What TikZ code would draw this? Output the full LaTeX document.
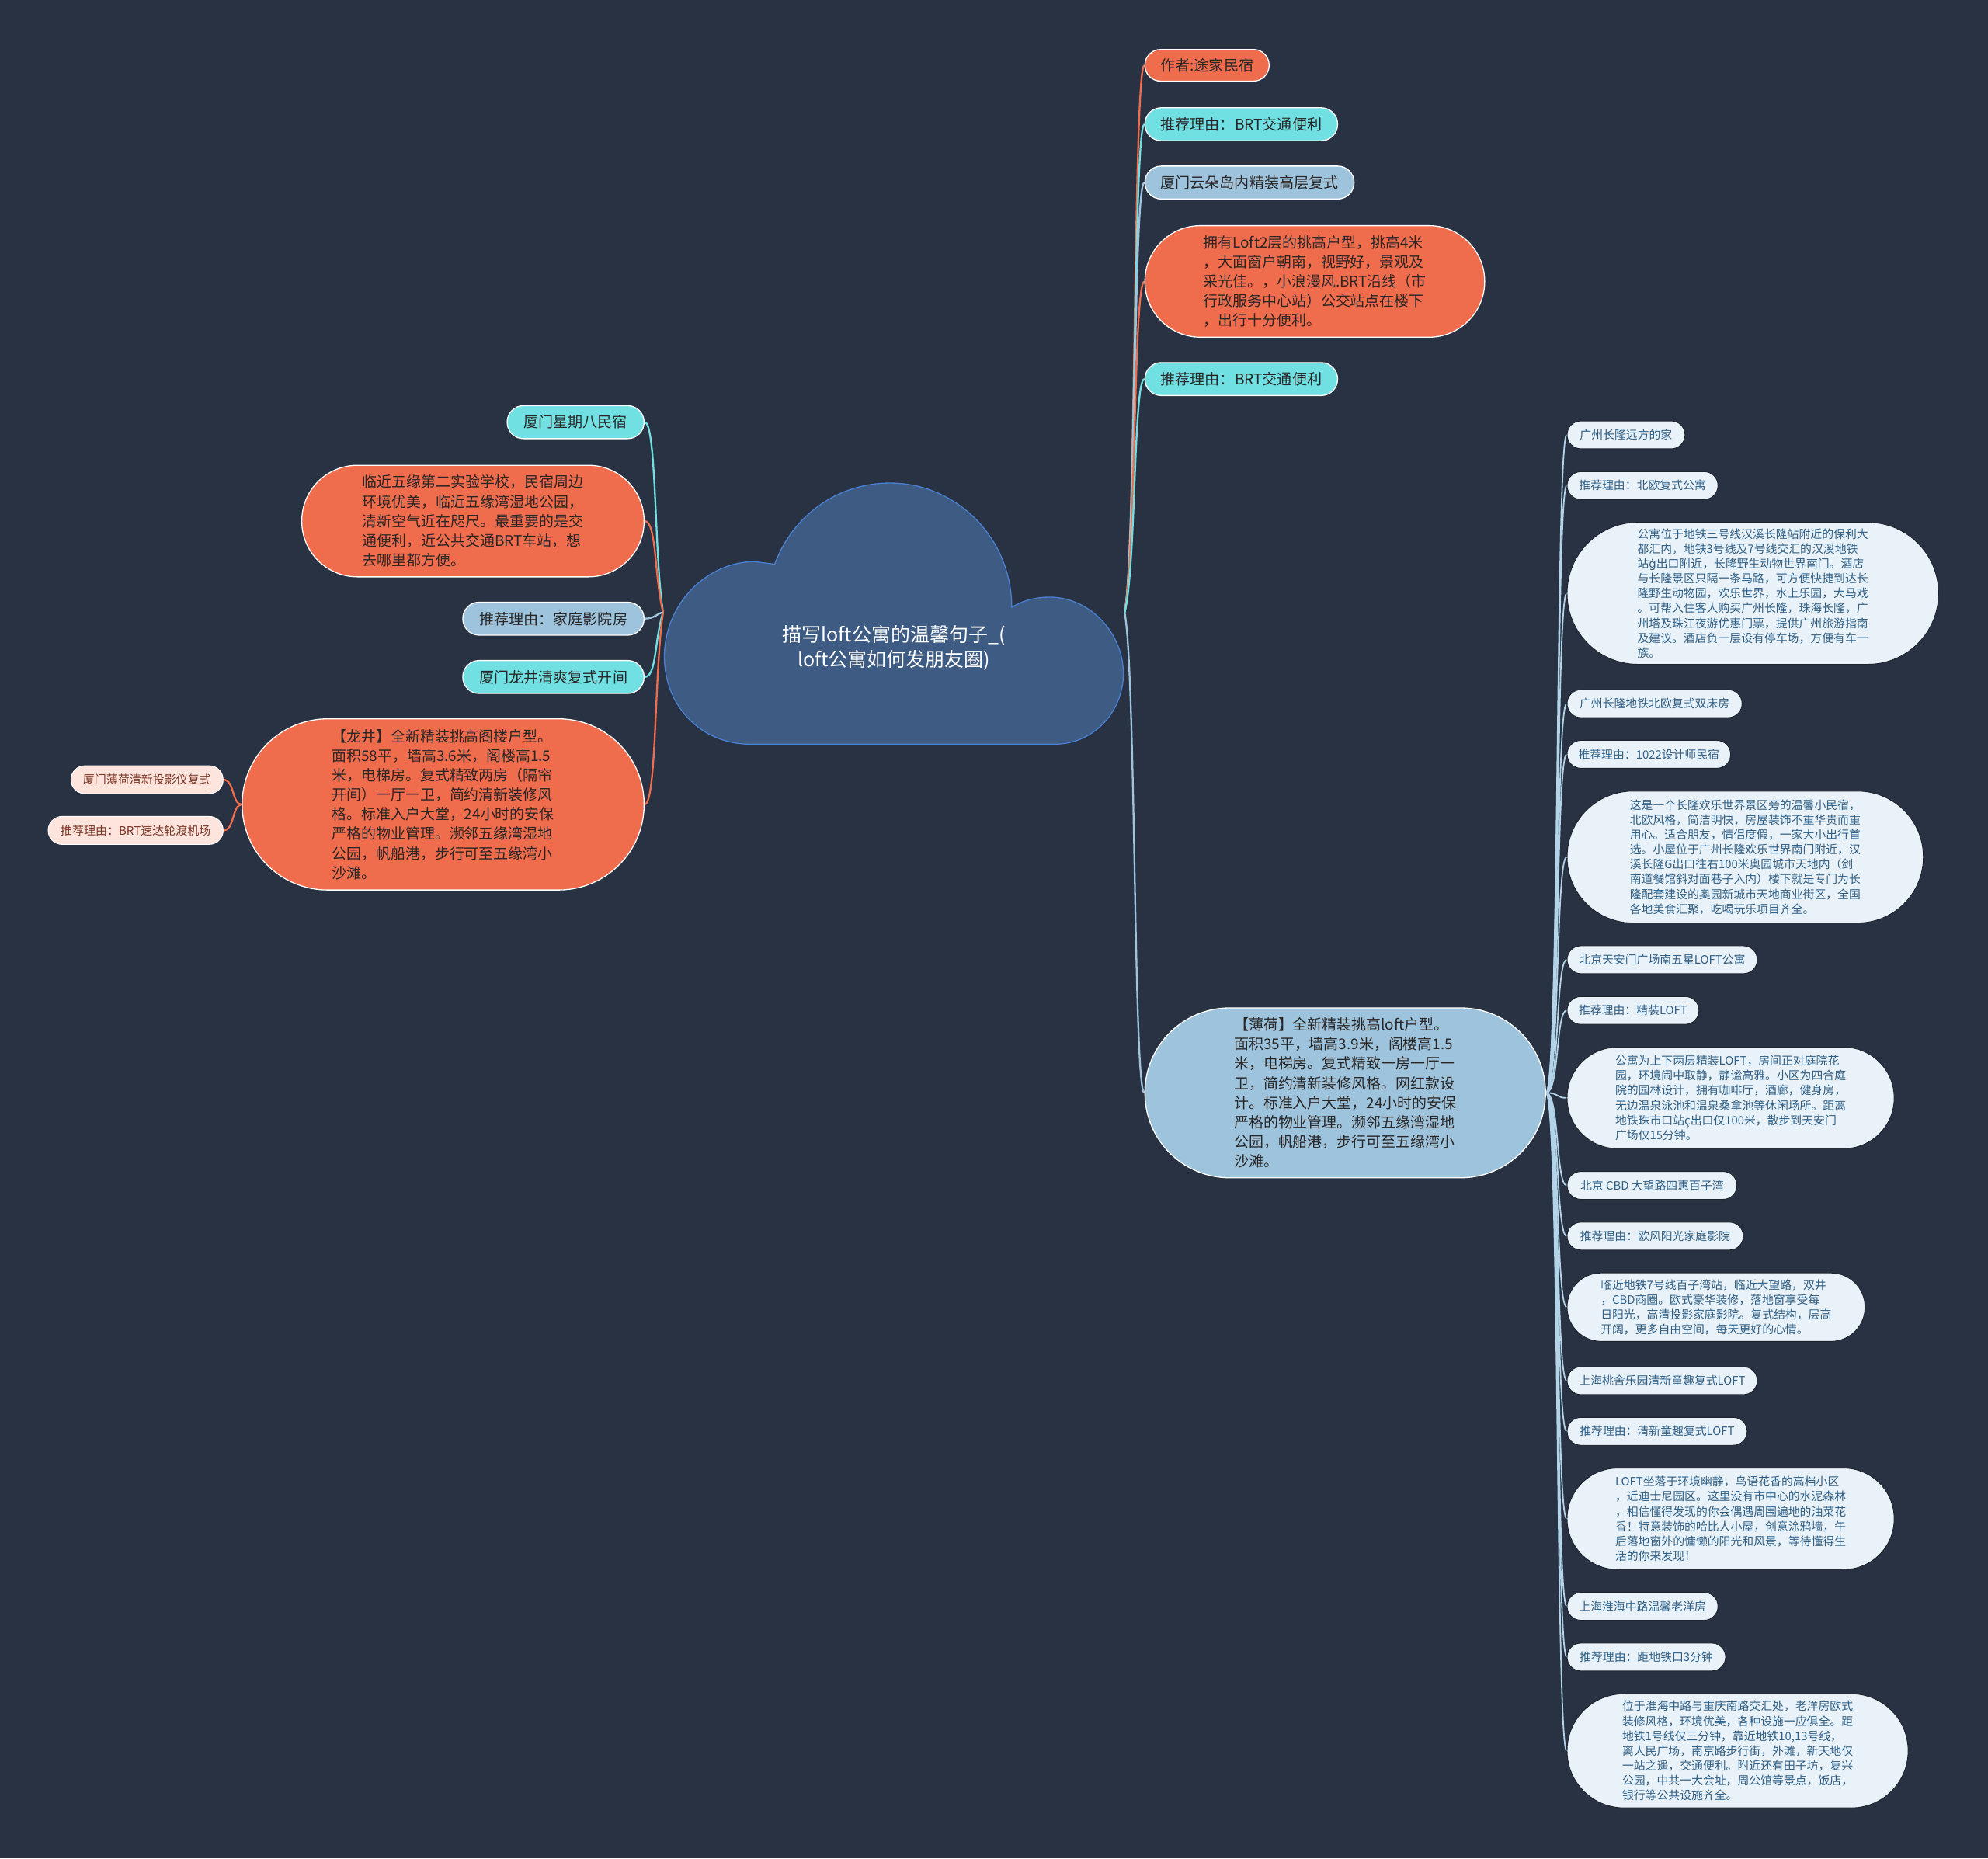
\documentclass[tikz,border=0pt]{standalone}
\usepackage{fontspec}
\setmainfont{Noto Sans CJK SC}
\newfontfamily\dejavu{DejaVu Sans}
\usetikzlibrary{calc,backgrounds}
\definecolor{bgc}{HTML}{293242}
\definecolor{orangec}{HTML}{EF6C4C}
\definecolor{cyanc}{HTML}{70E0E3}
\definecolor{steelc}{HTML}{9EC4DD}
\definecolor{palec}{HTML}{E9F2F8}
\definecolor{pinkc}{HTML}{FDE4DC}
\definecolor{cloudc}{HTML}{3E5B83}
\definecolor{cloudline}{HTML}{4A80D2}
\definecolor{darktext}{HTML}{2A2626}
\definecolor{bluetext}{HTML}{2F5F86}
\definecolor{pinktext}{HTML}{7A3424}
\definecolor{paleconn}{HTML}{B3D4E8}
\begin{document}
\begin{tikzpicture}[x=1pt,y=-1pt,
  pillbox/.style={draw=white, line width=0.8pt, inner sep=0pt, align=left, text=darktext},
  lvlone/.style={pillbox, font=\fontsize{11.7}{14}\selectfont},
  bigtext/.style={pillbox, font=\fontsize{11.6}{15.4}\selectfont},
  palebox/.style={draw=bgc!70!black, line width=0.6pt, fill=palec, inner sep=0pt, align=left, text=bluetext, font=\fontsize{9.1}{11.75}\selectfont},
  pinkbox/.style={draw=white, line width=0.6pt, fill=pinkc, inner sep=0pt, align=left, text=pinktext, font=\fontsize{9.2}{11}\selectfont},
  conn/.style={line width=1.4pt},
  subconn/.style={line width=1.1pt, paleconn}
]
\useasboundingbox (0,0) rectangle (1568,1466);

% cloud root
\node[text=white, align=center, font=\fontsize{15.3}{20}\selectfont] (root) at (705,511) {描写loft公寓的温馨句子\_(\\loft公寓如何发朋友圈)};
\coordinate (rootL) at (523,483);
\coordinate (rootR) at (887,483);

% left nodes
\node[lvlone, fill=cyanc, minimum width=108pt, minimum height=26pt, rounded corners=12.9pt] (l1) at (454,333) {厦门星期八民宿};
\node[bigtext, fill=orangec, minimum width=270pt, minimum height=88pt, rounded corners=43.9pt] (l2) at (373,411) {临近五缘第二实验学校，民宿周边\\环境优美，临近五缘湾湿地公园，\\清新空气近在咫尺。最重要的是交\\通便利，近公共交通BRT车站，想\\去哪里都方便。};
\node[lvlone, fill=steelc, minimum width=143pt, minimum height=26pt, rounded corners=12.9pt] (l3) at (436.5,488) {推荐理由：家庭影院房};
\node[lvlone, fill=cyanc, minimum width=143pt, minimum height=26pt, rounded corners=12.9pt] (l4) at (436.5,534) {厦门龙井清爽复式开间};
\node[bigtext, fill=orangec, minimum width=317pt, minimum height=135pt, rounded corners=67.4pt] (l5) at (349.5,634.5) {【龙井】全新精装挑高阁楼户型。\\面积58平，墙高3.6米，阁楼高1.5\\米，电梯房。复式精致两房（隔帘\\开间）一厅一卫，简约清新装修风\\格。标准入户大堂，24小时的安保\\严格的物业管理。濒邻五缘湾湿地\\公园，帆船港，步行可至五缘湾小\\沙滩。};
\node[pinkbox, minimum width=120pt, minimum height=22pt, rounded corners=10.9pt] (l6) at (116,615) {厦门薄荷清新投影仪复式};
\node[pinkbox, minimum width=138pt, minimum height=22pt, rounded corners=10.9pt] (l7) at (107,655) {推荐理由：BRT速达轮渡机场};

% right nodes
\node[lvlone, fill=orangec, minimum width=98pt, minimum height=25pt, rounded corners=12.4pt] (r1) at (952,51.5) {作者:途家民宿};
\node[lvlone, fill=cyanc, minimum width=152pt, minimum height=26pt, rounded corners=12.9pt] (r2) at (979,98) {推荐理由：BRT交通便利};
\node[lvlone, fill=steelc, minimum width=165pt, minimum height=26pt, rounded corners=12.9pt] (r3) at (985.5,144) {厦门云朵岛内精装高层复式};
\node[bigtext, fill=orangec, minimum width=268pt, minimum height=88pt, rounded corners=43.9pt] (r4) at (1037,222) {拥有Loft2层的挑高户型，挑高4米\\，大面窗户朝南，视野好，景观及\\采光佳。，小浪漫风.BRT沿线（市\\行政服务中心站）公交站点在楼下\\，出行十分便利。};
\node[lvlone, fill=cyanc, minimum width=152pt, minimum height=26pt, rounded corners=12.9pt] (r5) at (979,299) {推荐理由：BRT交通便利};
\node[bigtext, fill=steelc, minimum width=316pt, minimum height=134pt, rounded corners=66.9pt] (r6) at (1061,862) {【薄荷】全新精装挑高loft户型。\\面积35平，墙高3.9米，阁楼高1.5\\米，电梯房。复式精致一房一厅一\\卫，简约清新装修风格。网红款设\\计。标准入户大堂，24小时的安保\\严格的物业管理。濒邻五缘湾湿地\\公园，帆船港，步行可至五缘湾小\\沙滩。};

% children of 薄荷
\node[palebox, minimum width=93pt, minimum height=22pt, rounded corners=10.9pt] (a) at (1282.5,343) {广州长隆远方的家};
\node[palebox, minimum width=119pt, minimum height=22pt, rounded corners=10.9pt] (b) at (1295.5,383) {推荐理由：北欧复式公寓};
\node[palebox, minimum width=293pt, minimum height=112pt, rounded corners=55.9pt] (c) at (1382.5,468) {公寓位于地铁三号线汉溪长隆站附近的保利大\\都汇内，地铁3号线及7号线交汇的汉溪地铁\\站{\dejavu ġ}出口附近，长隆野生动物世界南门。酒店\\与长隆景区只隔一条马路，可方便快捷到达长\\隆野生动物园，欢乐世界，水上乐园，大马戏\\。可帮入住客人购买广州长隆，珠海长隆，广\\州塔及珠江夜游优惠门票，提供广州旅游指南\\及建议。酒店负一层设有停车场，方便有车一\\族。};
\node[palebox, minimum width=138pt, minimum height=22pt, rounded corners=10.9pt] (d) at (1305,555) {广州长隆地铁北欧复式双床房};
\node[palebox, minimum width=129pt, minimum height=22pt, rounded corners=10.9pt] (e) at (1300.5,595) {推荐理由：1022设计师民宿};
\node[palebox, minimum width=281pt, minimum height=104pt, rounded corners=51.9pt] (f) at (1376.5,676) {这是一个长隆欢乐世界景区旁的温馨小民宿，\\北欧风格，简洁明快，房屋装饰不重华贵而重\\用心。适合朋友，情侣度假，一家大小出行首\\选。小屋位于广州长隆欢乐世界南门附近，汉\\溪长隆G出口往右100米奥园城市天地内（剑\\南道餐馆斜对面巷子入内）楼下就是专门为长\\隆配套建设的奥园新城市天地商业街区，全国\\各地美食汇聚，吃喝玩乐项目齐全。};
\node[palebox, minimum width=150pt, minimum height=22pt, rounded corners=10.9pt] (g) at (1311,757) {北京天安门广场南五星LOFT公寓};
\node[palebox, minimum width=104pt, minimum height=22pt, rounded corners=10.9pt] (h) at (1288,797) {推荐理由：精装LOFT};
\node[palebox, minimum width=258pt, minimum height=80pt, rounded corners=39.9pt] (i) at (1365,866) {公寓为上下两层精装LOFT，房间正对庭院花\\园，环境闹中取静，静谧高雅。小区为四合庭\\院的园林设计，拥有咖啡厅，酒廊，健身房，\\无边温泉泳池和温泉桑拿池等休闲场所。距离\\地铁珠市口站ç出口仅100米，散步到天安门\\广场仅15分钟。};
\node[palebox, minimum width=134pt, minimum height=22pt, rounded corners=10.9pt] (j) at (1303,935) {北京 CBD 大望路四惠百子湾};
\node[palebox, minimum width=139pt, minimum height=22pt, rounded corners=10.9pt] (k) at (1305.5,975) {推荐理由：欧风阳光家庭影院};
\node[palebox, minimum width=235pt, minimum height=54pt, rounded corners=26.9pt] (l) at (1353.5,1031) {临近地铁7号线百子湾站，临近大望路，双井\\，CBD商圈。欧式豪华装修，落地窗享受每\\日阳光，高清投影家庭影院。复式结构，层高\\开阔，更多自由空间，每天更好的心情。};
\node[palebox, minimum width=150pt, minimum height=22pt, rounded corners=10.9pt] (m) at (1311,1089) {上海桃舍乐园清新童趣复式LOFT};
\node[palebox, minimum width=142pt, minimum height=22pt, rounded corners=10.9pt] (n) at (1307,1129) {推荐理由：清新童趣复式LOFT};
\node[palebox, minimum width=258pt, minimum height=80pt, rounded corners=39.9pt] (o) at (1365,1198) {LOFT坐落于环境幽静，鸟语花香的高档小区\\，近迪士尼园区。这里没有市中心的水泥森林\\，相信懂得发现的你会偶遇周围遍地的油菜花\\香！特意装饰的哈比人小屋，创意涂鸦墙，午\\后落地窗外的慵懒的阳光和风景，等待懂得生\\活的你来发现！};
\node[palebox, minimum width=119pt, minimum height=22pt, rounded corners=10.9pt] (p) at (1295.5,1267) {上海淮海中路温馨老洋房};
\node[palebox, minimum width=125pt, minimum height=22pt, rounded corners=10.9pt] (q) at (1298.5,1307) {推荐理由：距地铁口3分钟};
\node[palebox, minimum width=269pt, minimum height=90pt, rounded corners=44.9pt] (r) at (1370.5,1381) {位于淮海中路与重庆南路交汇处，老洋房欧式\\装修风格，环境优美，各种设施一应俱全。距\\地铁1号线仅三分钟，靠近地铁10,13号线，\\离人民广场，南京路步行街，外滩，新天地仅\\一站之遥，交通便利。附近还有田子坊，复兴\\公园，中共一大会址，周公馆等景点，饭店，\\银行等公共设施齐全。};

\begin{scope}[on background layer]
\fill[bgc] (0,0) rectangle (1568,1466);
% cloud shape
\filldraw[fill=cloudc, draw=cloudline, line width=0.8pt]
  (592,587) .. controls (552,587) and (524,556) .. (524,518)
  .. controls (524,476) and (558,443) .. (595,443) -- (611,445)
  .. controls (626,405) and (662,381) .. (702,381)
  .. controls (755,381) and (798,425) .. (798,479)
  .. controls (808,473) and (818,471) .. (828,471)
  .. controls (860,471) and (886,500) .. (886,531)
  .. controls (886,562) and (862,587) .. (832,587) -- cycle;
% left connectors
\draw[conn, cyanc] (l1.east) .. controls (518,333) and (516,440) .. (rootL);
\draw[conn, orangec] (l2.east) .. controls (518,411) and (516,455) .. (rootL);
\draw[conn, steelc] (l3.east) .. controls (516,488) and (518,484) .. (rootL);
\draw[conn, cyanc] (l4.east) .. controls (518,534) and (516,505) .. (rootL);
\draw[conn, orangec] (l5.east) .. controls (518,634) and (516,530) .. (rootL);
\draw[conn, orangec] (l6.east) .. controls (185,615) and (183,635) .. (l5.west);
\draw[conn, orangec] (l7.east) .. controls (185,655) and (183,635) .. (l5.west);
% right connectors
\draw[conn, orangec] (rootR) .. controls (896,440) and (894,51.5) .. (r1.west);
\draw[conn, cyanc] (rootR) .. controls (896,440) and (894,98) .. (r2.west);
\draw[conn, steelc] (rootR) .. controls (896,440) and (894,144) .. (r3.west);
\draw[conn, orangec] (rootR) .. controls (896,440) and (894,222) .. (r4.west);
\draw[conn, cyanc] (rootR) .. controls (896,450) and (894,299) .. (r5.west);
\draw[conn, steelc] (rootR) .. controls (896,530) and (894,862) .. (r6.west);
% children of 薄荷
\foreach \ch in {a,b,c,d,e,f,g,h,i,j,k,l,m,n,o,p,q,r}{
  \draw[subconn] (r6.east) .. controls (1230,862) and (1227,0 |- \ch.west) .. (\ch.west);
}
\end{scope}
\end{tikzpicture}
\end{document}
